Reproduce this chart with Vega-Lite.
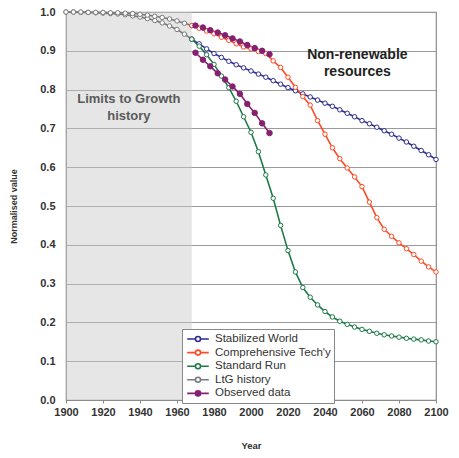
{
  "$schema": "https://vega.github.io/schema/vega-lite/v6.json",
  "width": 370,
  "height": 388,
  "autosize": "none",
  "padding": {"left": 66, "top": 12, "right": 23, "bottom": 58},
  "background": "white",
  "config": {
    "font": "Liberation Sans",
    "view": {"stroke": "#8a8a8a", "strokeWidth": 1.2},
    "axis": {"labelOverlap": false, "labelFlush": false, "labelFont": "Liberation Sans", "labelFontWeight": "bold", "labelFontSize": 11, "labelColor": "#333",
      "domainColor": "#8a8a8a", "titleFont": "Liberation Sans", "titleFontWeight": "bold", "titleColor": "#333"},
    "axisX": {"values": [1900,1920,1940,1960,1980,2000,2020,2040,2060,2080,2100], "format": "d", "grid": false,
      "tickSize": 3, "tickColor": "#8a8a8a", "labelPadding": 3, "title": "Year", "titleFontSize": 9.5, "titlePadding": 23},
    "axisY": {"values": [0,0.1,0.2,0.3,0.4,0.5,0.6,0.7,0.8,0.9,1.0], "format": ".1f", "grid": true, "gridColor": "#9a9a9a", "gridWidth": 1,
      "ticks": false, "labelPadding": 11, "titleFontSize": 9, "titlePadding": 21}
  },
  "datasets": {
    "runs": [
      {"series": "LtG history", "run": "h1", "year": 1900, "value": 1.0},
      {"series": "LtG history", "run": "h1", "year": 1904, "value": 1.0},
      {"series": "LtG history", "run": "h1", "year": 1908, "value": 0.999},
      {"series": "LtG history", "run": "h1", "year": 1912, "value": 0.999},
      {"series": "LtG history", "run": "h1", "year": 1916, "value": 0.998},
      {"series": "LtG history", "run": "h1", "year": 1920, "value": 0.997},
      {"series": "LtG history", "run": "h1", "year": 1924, "value": 0.996},
      {"series": "LtG history", "run": "h1", "year": 1928, "value": 0.995},
      {"series": "LtG history", "run": "h1", "year": 1932, "value": 0.993},
      {"series": "LtG history", "run": "h1", "year": 1936, "value": 0.99},
      {"series": "LtG history", "run": "h1", "year": 1940, "value": 0.987},
      {"series": "LtG history", "run": "h1", "year": 1944, "value": 0.983},
      {"series": "LtG history", "run": "h1", "year": 1948, "value": 0.978},
      {"series": "LtG history", "run": "h1", "year": 1952, "value": 0.972},
      {"series": "LtG history", "run": "h1", "year": 1956, "value": 0.964},
      {"series": "LtG history", "run": "h1", "year": 1960, "value": 0.955},
      {"series": "LtG history", "run": "h1", "year": 1964, "value": 0.943},
      {"series": "LtG history", "run": "h1", "year": 1968, "value": 0.93},
      {"series": "LtG history", "run": "h2", "year": 1900, "value": 1.0},
      {"series": "LtG history", "run": "h2", "year": 1904, "value": 1.0},
      {"series": "LtG history", "run": "h2", "year": 1908, "value": 1.0},
      {"series": "LtG history", "run": "h2", "year": 1912, "value": 0.999},
      {"series": "LtG history", "run": "h2", "year": 1916, "value": 0.999},
      {"series": "LtG history", "run": "h2", "year": 1920, "value": 0.999},
      {"series": "LtG history", "run": "h2", "year": 1924, "value": 0.998},
      {"series": "LtG history", "run": "h2", "year": 1928, "value": 0.998},
      {"series": "LtG history", "run": "h2", "year": 1932, "value": 0.997},
      {"series": "LtG history", "run": "h2", "year": 1936, "value": 0.996},
      {"series": "LtG history", "run": "h2", "year": 1940, "value": 0.994},
      {"series": "LtG history", "run": "h2", "year": 1944, "value": 0.992},
      {"series": "LtG history", "run": "h2", "year": 1948, "value": 0.989},
      {"series": "LtG history", "run": "h2", "year": 1952, "value": 0.986},
      {"series": "LtG history", "run": "h2", "year": 1956, "value": 0.982},
      {"series": "LtG history", "run": "h2", "year": 1960, "value": 0.977},
      {"series": "LtG history", "run": "h2", "year": 1964, "value": 0.971},
      {"series": "LtG history", "run": "h2", "year": 1968, "value": 0.965},

      {"series": "Stabilized World", "run": "sw", "year": 1968, "value": 0.93},
      {"series": "Stabilized World", "run": "sw", "year": 1972, "value": 0.918},
      {"series": "Stabilized World", "run": "sw", "year": 1976, "value": 0.905},
      {"series": "Stabilized World", "run": "sw", "year": 1980, "value": 0.893},
      {"series": "Stabilized World", "run": "sw", "year": 1984, "value": 0.883},
      {"series": "Stabilized World", "run": "sw", "year": 1988, "value": 0.873},
      {"series": "Stabilized World", "run": "sw", "year": 1992, "value": 0.864},
      {"series": "Stabilized World", "run": "sw", "year": 1996, "value": 0.856},
      {"series": "Stabilized World", "run": "sw", "year": 2000, "value": 0.848},
      {"series": "Stabilized World", "run": "sw", "year": 2004, "value": 0.84},
      {"series": "Stabilized World", "run": "sw", "year": 2008, "value": 0.832},
      {"series": "Stabilized World", "run": "sw", "year": 2012, "value": 0.823},
      {"series": "Stabilized World", "run": "sw", "year": 2016, "value": 0.814},
      {"series": "Stabilized World", "run": "sw", "year": 2020, "value": 0.805},
      {"series": "Stabilized World", "run": "sw", "year": 2024, "value": 0.797},
      {"series": "Stabilized World", "run": "sw", "year": 2028, "value": 0.789},
      {"series": "Stabilized World", "run": "sw", "year": 2032, "value": 0.781},
      {"series": "Stabilized World", "run": "sw", "year": 2036, "value": 0.773},
      {"series": "Stabilized World", "run": "sw", "year": 2040, "value": 0.765},
      {"series": "Stabilized World", "run": "sw", "year": 2044, "value": 0.757},
      {"series": "Stabilized World", "run": "sw", "year": 2048, "value": 0.748},
      {"series": "Stabilized World", "run": "sw", "year": 2052, "value": 0.739},
      {"series": "Stabilized World", "run": "sw", "year": 2056, "value": 0.73},
      {"series": "Stabilized World", "run": "sw", "year": 2060, "value": 0.72},
      {"series": "Stabilized World", "run": "sw", "year": 2064, "value": 0.712},
      {"series": "Stabilized World", "run": "sw", "year": 2068, "value": 0.703},
      {"series": "Stabilized World", "run": "sw", "year": 2072, "value": 0.694},
      {"series": "Stabilized World", "run": "sw", "year": 2076, "value": 0.685},
      {"series": "Stabilized World", "run": "sw", "year": 2080, "value": 0.675},
      {"series": "Stabilized World", "run": "sw", "year": 2084, "value": 0.665},
      {"series": "Stabilized World", "run": "sw", "year": 2088, "value": 0.654},
      {"series": "Stabilized World", "run": "sw", "year": 2092, "value": 0.643},
      {"series": "Stabilized World", "run": "sw", "year": 2096, "value": 0.632},
      {"series": "Stabilized World", "run": "sw", "year": 2100, "value": 0.62},

      {"series": "Comprehensive Tech'y", "run": "ct", "year": 1968, "value": 0.965},
      {"series": "Comprehensive Tech'y", "run": "ct", "year": 1972, "value": 0.958},
      {"series": "Comprehensive Tech'y", "run": "ct", "year": 1976, "value": 0.951},
      {"series": "Comprehensive Tech'y", "run": "ct", "year": 1980, "value": 0.944},
      {"series": "Comprehensive Tech'y", "run": "ct", "year": 1984, "value": 0.935},
      {"series": "Comprehensive Tech'y", "run": "ct", "year": 1988, "value": 0.927},
      {"series": "Comprehensive Tech'y", "run": "ct", "year": 1992, "value": 0.918},
      {"series": "Comprehensive Tech'y", "run": "ct", "year": 1996, "value": 0.91},
      {"series": "Comprehensive Tech'y", "run": "ct", "year": 2000, "value": 0.905},
      {"series": "Comprehensive Tech'y", "run": "ct", "year": 2004, "value": 0.898},
      {"series": "Comprehensive Tech'y", "run": "ct", "year": 2008, "value": 0.893},
      {"series": "Comprehensive Tech'y", "run": "ct", "year": 2012, "value": 0.874},
      {"series": "Comprehensive Tech'y", "run": "ct", "year": 2016, "value": 0.857},
      {"series": "Comprehensive Tech'y", "run": "ct", "year": 2020, "value": 0.832},
      {"series": "Comprehensive Tech'y", "run": "ct", "year": 2024, "value": 0.806},
      {"series": "Comprehensive Tech'y", "run": "ct", "year": 2028, "value": 0.782},
      {"series": "Comprehensive Tech'y", "run": "ct", "year": 2032, "value": 0.76},
      {"series": "Comprehensive Tech'y", "run": "ct", "year": 2036, "value": 0.72},
      {"series": "Comprehensive Tech'y", "run": "ct", "year": 2040, "value": 0.685},
      {"series": "Comprehensive Tech'y", "run": "ct", "year": 2044, "value": 0.65},
      {"series": "Comprehensive Tech'y", "run": "ct", "year": 2048, "value": 0.622},
      {"series": "Comprehensive Tech'y", "run": "ct", "year": 2052, "value": 0.598},
      {"series": "Comprehensive Tech'y", "run": "ct", "year": 2056, "value": 0.575},
      {"series": "Comprehensive Tech'y", "run": "ct", "year": 2060, "value": 0.55},
      {"series": "Comprehensive Tech'y", "run": "ct", "year": 2064, "value": 0.51},
      {"series": "Comprehensive Tech'y", "run": "ct", "year": 2068, "value": 0.47},
      {"series": "Comprehensive Tech'y", "run": "ct", "year": 2072, "value": 0.44},
      {"series": "Comprehensive Tech'y", "run": "ct", "year": 2076, "value": 0.422},
      {"series": "Comprehensive Tech'y", "run": "ct", "year": 2080, "value": 0.405},
      {"series": "Comprehensive Tech'y", "run": "ct", "year": 2084, "value": 0.39},
      {"series": "Comprehensive Tech'y", "run": "ct", "year": 2088, "value": 0.375},
      {"series": "Comprehensive Tech'y", "run": "ct", "year": 2092, "value": 0.358},
      {"series": "Comprehensive Tech'y", "run": "ct", "year": 2096, "value": 0.343},
      {"series": "Comprehensive Tech'y", "run": "ct", "year": 2100, "value": 0.33},

      {"series": "Standard Run", "run": "sr", "year": 1968, "value": 0.93},
      {"series": "Standard Run", "run": "sr", "year": 1972, "value": 0.912},
      {"series": "Standard Run", "run": "sr", "year": 1976, "value": 0.89},
      {"series": "Standard Run", "run": "sr", "year": 1980, "value": 0.865},
      {"series": "Standard Run", "run": "sr", "year": 1984, "value": 0.835},
      {"series": "Standard Run", "run": "sr", "year": 1988, "value": 0.805},
      {"series": "Standard Run", "run": "sr", "year": 1992, "value": 0.77},
      {"series": "Standard Run", "run": "sr", "year": 1996, "value": 0.73},
      {"series": "Standard Run", "run": "sr", "year": 2000, "value": 0.69},
      {"series": "Standard Run", "run": "sr", "year": 2004, "value": 0.64},
      {"series": "Standard Run", "run": "sr", "year": 2008, "value": 0.58},
      {"series": "Standard Run", "run": "sr", "year": 2012, "value": 0.52},
      {"series": "Standard Run", "run": "sr", "year": 2016, "value": 0.45},
      {"series": "Standard Run", "run": "sr", "year": 2020, "value": 0.385},
      {"series": "Standard Run", "run": "sr", "year": 2024, "value": 0.33},
      {"series": "Standard Run", "run": "sr", "year": 2028, "value": 0.29},
      {"series": "Standard Run", "run": "sr", "year": 2032, "value": 0.265},
      {"series": "Standard Run", "run": "sr", "year": 2036, "value": 0.245},
      {"series": "Standard Run", "run": "sr", "year": 2040, "value": 0.228},
      {"series": "Standard Run", "run": "sr", "year": 2044, "value": 0.214},
      {"series": "Standard Run", "run": "sr", "year": 2048, "value": 0.203},
      {"series": "Standard Run", "run": "sr", "year": 2052, "value": 0.195},
      {"series": "Standard Run", "run": "sr", "year": 2056, "value": 0.188},
      {"series": "Standard Run", "run": "sr", "year": 2060, "value": 0.182},
      {"series": "Standard Run", "run": "sr", "year": 2064, "value": 0.177},
      {"series": "Standard Run", "run": "sr", "year": 2068, "value": 0.172},
      {"series": "Standard Run", "run": "sr", "year": 2072, "value": 0.168},
      {"series": "Standard Run", "run": "sr", "year": 2076, "value": 0.165},
      {"series": "Standard Run", "run": "sr", "year": 2080, "value": 0.162},
      {"series": "Standard Run", "run": "sr", "year": 2084, "value": 0.159},
      {"series": "Standard Run", "run": "sr", "year": 2088, "value": 0.157},
      {"series": "Standard Run", "run": "sr", "year": 2092, "value": 0.155},
      {"series": "Standard Run", "run": "sr", "year": 2096, "value": 0.152},
      {"series": "Standard Run", "run": "sr", "year": 2100, "value": 0.15},

      {"series": "Observed data", "run": "o1", "year": 1970, "value": 0.965},
      {"series": "Observed data", "run": "o1", "year": 1974, "value": 0.96},
      {"series": "Observed data", "run": "o1", "year": 1978, "value": 0.953},
      {"series": "Observed data", "run": "o1", "year": 1982, "value": 0.947},
      {"series": "Observed data", "run": "o1", "year": 1986, "value": 0.94},
      {"series": "Observed data", "run": "o1", "year": 1990, "value": 0.932},
      {"series": "Observed data", "run": "o1", "year": 1994, "value": 0.924},
      {"series": "Observed data", "run": "o1", "year": 1998, "value": 0.915},
      {"series": "Observed data", "run": "o1", "year": 2002, "value": 0.907},
      {"series": "Observed data", "run": "o1", "year": 2006, "value": 0.9},
      {"series": "Observed data", "run": "o1", "year": 2010, "value": 0.891},
      {"series": "Observed data", "run": "o2", "year": 1970, "value": 0.895},
      {"series": "Observed data", "run": "o2", "year": 1974, "value": 0.877},
      {"series": "Observed data", "run": "o2", "year": 1978, "value": 0.86},
      {"series": "Observed data", "run": "o2", "year": 1982, "value": 0.842},
      {"series": "Observed data", "run": "o2", "year": 1986, "value": 0.826},
      {"series": "Observed data", "run": "o2", "year": 1990, "value": 0.808},
      {"series": "Observed data", "run": "o2", "year": 1994, "value": 0.789},
      {"series": "Observed data", "run": "o2", "year": 1998, "value": 0.763},
      {"series": "Observed data", "run": "o2", "year": 2002, "value": 0.74},
      {"series": "Observed data", "run": "o2", "year": 2006, "value": 0.713},
      {"series": "Observed data", "run": "o2", "year": 2010, "value": 0.688}
    ],
    "shade": [{"start": 1900, "end": 1968}],
    "notes": [
      {"label": "Limits to Growth\nhistory", "year": 1934, "value": 0.776, "kind": "history"},
      {"label": "Non-renewable\nresources", "year": 2057.5, "value": 0.889, "kind": "resource"}
    ]
  },
  "layer": [
    {
      "data": {"name": "shade"},
      "mark": {"type": "rect", "color": "#c8c8c8", "opacity": 0.45},
      "encoding": {
        "x": {"field": "start", "type": "quantitative", "scale": {"domain": [1900, 2100], "nice": false, "zero": false}, "title": "Year"},
        "x2": {"field": "end"},
        "y": {"datum": 0, "type": "quantitative", "scale": {"domain": [0, 1], "nice": false}, "title": "Normalised value"},
        "y2": {"datum": 1}
      }
    },
    {
      "data": {"name": "runs"},
      "mark": {"type": "line", "strokeWidth": 1.6},
      "encoding": {
        "x": {"field": "year", "type": "quantitative", "title": "Year"},
        "y": {"field": "value", "type": "quantitative", "title": "Normalised value"},
        "detail": {"field": "run"},
        "color": {"field": "series", "type": "nominal",
          "scale": {"domain": ["Stabilized World", "Comprehensive Tech'y", "Standard Run", "LtG history", "Observed data"],
            "range": ["#2e2e90", "#ff4a26", "#1e7a46", "#7a7a7a", "#852070"]},
          "legend": {"orient": "none", "legendX": 116, "legendY": 317, "title": null,
            "fillColor": "white", "strokeColor": "#888", "padding": 3,
            "labelFont": "Liberation Sans", "labelFontSize": 11.5, "labelColor": "#333", "labelOffset": 10,
            "symbolType": "M-1.8,0L-0.42,0M0.42,0L1.8,0M-0.42,0A0.42,0.42 0 1,0 0.42,0A0.42,0.42 0 1,0 -0.42,0",
            "symbolSize": 144, "symbolStrokeWidth": 1.6, "rowPadding": 0.6, "symbolOffset": 6, "symbolFillColor": "white",
            "encode": {"symbols": {"update": {"fill": {"signal": "datum.value === 'Observed data' ? '#852070' : 'white'"}, "fillOpacity": {"value": 1}}}}}}
      }
    },
    {
      "data": {"name": "runs"},
      "transform": [{"filter": "datum.series !== 'Observed data'"}],
      "mark": {"type": "point", "shape": "circle", "filled": false, "fill": "white", "fillOpacity": 1, "size": 20, "strokeWidth": 1, "opacity": 1},
      "encoding": {
        "x": {"field": "year", "type": "quantitative"},
        "y": {"field": "value", "type": "quantitative"},
        "color": {"field": "series", "type": "nominal"}
      }
    },
    {
      "data": {"name": "runs"},
      "transform": [{"filter": "datum.series === 'Observed data'"}],
      "mark": {"type": "point", "shape": "circle", "filled": false, "fill": "#852070", "fillOpacity": 1, "size": 30, "strokeWidth": 1, "opacity": 1},
      "encoding": {
        "x": {"field": "year", "type": "quantitative"},
        "y": {"field": "value", "type": "quantitative"},
        "color": {"field": "series", "type": "nominal"}
      }
    },
    {
      "data": {"name": "notes"},
      "transform": [{"filter": "datum.kind === 'history'"}],
      "mark": {"type": "text", "lineBreak": "\n", "lineHeight": 17, "font": "Liberation Sans", "fontWeight": "bold", "fontSize": 13, "color": "#5a5a5a", "align": "center", "baseline": "middle"},
      "encoding": {"x": {"field": "year", "type": "quantitative"}, "y": {"field": "value", "type": "quantitative"}, "text": {"field": "label"}}
    },
    {
      "data": {"name": "notes"},
      "transform": [{"filter": "datum.kind === 'resource'"}],
      "mark": {"type": "text", "lineBreak": "\n", "lineHeight": 17, "font": "Liberation Sans", "fontWeight": "bold", "fontSize": 14, "color": "#222", "align": "center", "baseline": "middle"},
      "encoding": {"x": {"field": "year", "type": "quantitative"}, "y": {"field": "value", "type": "quantitative"}, "text": {"field": "label"}}
    }
  ]
}
